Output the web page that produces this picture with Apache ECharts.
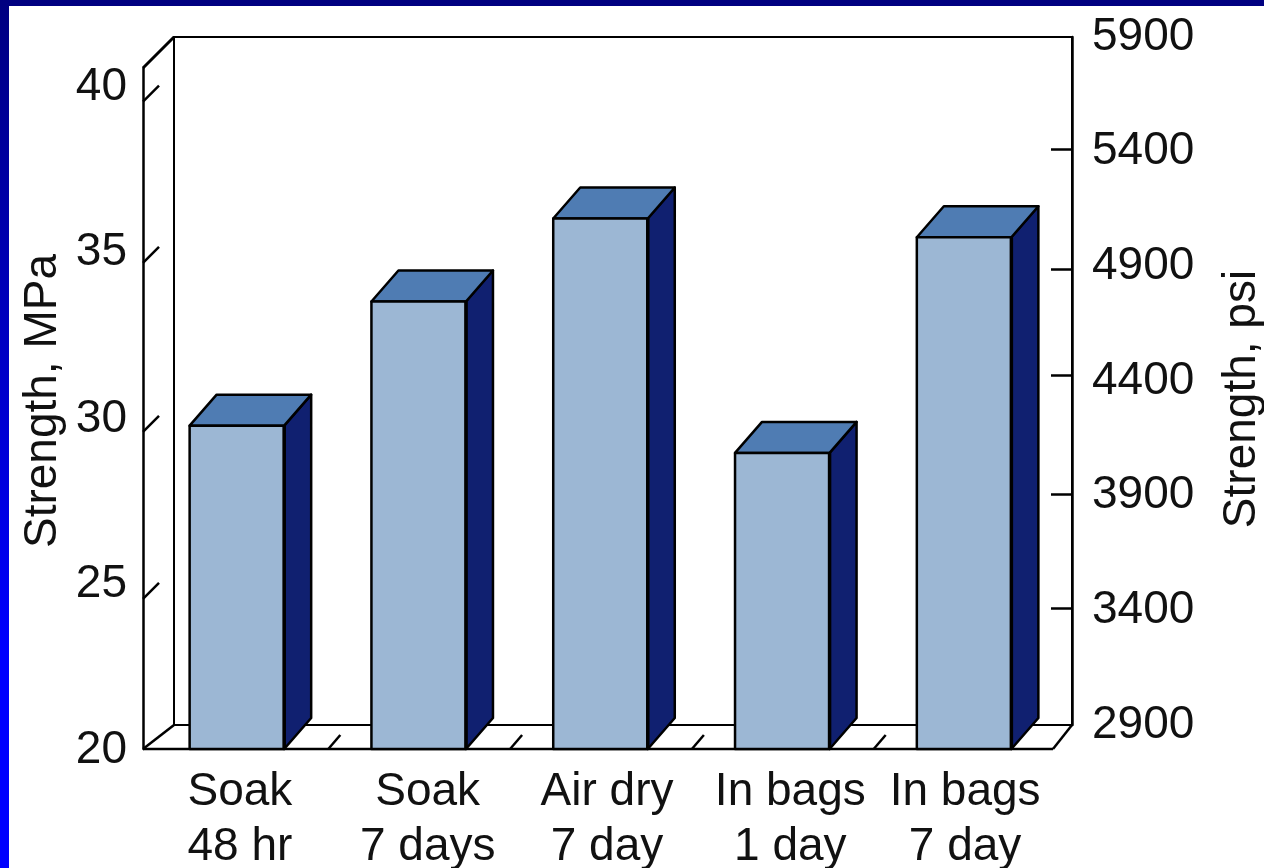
<!DOCTYPE html>
<html>
<head>
<meta charset="utf-8">
<style>html,body{margin:0;padding:0;background:#fff}#c{width:1264px;height:868px}</style>
<script src="https://cdn.jsdelivr.net/npm/echarts@6/dist/echarts.min.js"></script>
</head>
<body>
<div id="c"></div>
<script>
// ---- data ----
const categories = ["Soak\n48 hr", "Soak\n7 days", "Air dry\n7 day", "In bags\n1 day", "In bags\n7 day"];
const strengthMPa = [29.97, 33.8, 36.36, 29.13, 35.78];
const leftLabels = [20, 25, 30, 35, 40];
const leftTickMarks = [24.63, 29.78, 34.99, 39.96];   // where the slanted ticks were actually drawn
const rightLabels = [2900, 3400, 3900, 4400, 4900, 5400, 5900];
const rightTickMarks = [3410, 3906, 4423, 4887, 5409]; // where the right ticks were actually drawn
const leftName = "Strength, MPa";
const rightName = "Strength, psi";

// ---- style ----
const FONT = "Liberation Sans", FS = 46, INK = "#000", TXT = "#111";
const FACE = "#9cb7d4", TOP = "#4f7cb3", SIDE = "#102070";
const BAR_RATIO = 0.52, DX = 27, DY = 31;
const leftPad = {40: [0, 0, 27, 0], 35: [0, 0, 21, 0], 30: [0, 0, 11, 0], 25: [0, 0, 6, 0], 20: [3, 0, 0, 0]};  // label nudges
const catNudge = [6, 18, 13, 16, 2];                       // label nudges (left padding)

const rich = {};
leftLabels.forEach(v => { rich["l" + v] = {fontFamily: FONT, fontSize: FS, color: TXT, padding: leftPad[v]}; });
catNudge.forEach((p, i) => { rich["c" + i] = {fontFamily: FONT, fontSize: FS, lineHeight: 55, color: TXT, padding: [0, 0, 0, p]}; });

function renderBar(params, api) {
  const i = api.value(0), v = api.value(1);
  const top = api.coord([i, v]), base = api.coord([i, 20]);
  const w = api.size([1, 0])[0] * BAR_RATIO;
  const x0 = top[0] - w / 2, x1 = top[0] + w / 2, y0 = top[1], y1 = base[1];
  const edge = {stroke: INK, lineWidth: 2.5, lineJoin: "round"};
  return {type: "group", children: [
    {type: "polygon", shape: {points: [[x1, y0], [x1 + DX, y0 - DY], [x1 + DX, y1 - DY], [x1, y1]]}, style: Object.assign({fill: SIDE}, edge)},
    {type: "polygon", shape: {points: [[x0, y0], [x0 + DX, y0 - DY], [x1 + DX, y0 - DY], [x1, y0]]}, style: Object.assign({fill: TOP}, edge)},
    {type: "rect", shape: {x: x0, y: y0, width: w, height: y1 - y0}, style: Object.assign({fill: FACE}, edge)},
    {type: "line", shape: {x1: x1, y1: y0, x2: x1, y2: y1}, style: {stroke: INK, lineWidth: 3.5}}
  ]};
}

function renderFrame(params, api) {
  const g = params.coordSys, line = (a, b, c, d, lw) => ({type: "line", shape: {x1: a, y1: b, x2: c, y2: d}, style: {stroke: INK, lineWidth: lw || 2.5}});
  const L = g.x - 3, B = g.y + g.height, T = g.y, band = g.width / categories.length, R = g.x + g.width - 2;
  const kids = [
    line(L, T, L + 31, T - 31, 3),
    line(L, B, L + 31, B - 24),
    line(L, B, R, B),
    line(R, B, R + 19, B - 24)
  ];
  leftTickMarks.forEach(t => { const y = api.coord([0, t])[1]; kids.push(line(L, y, L + 16, y - 16)); });
  for (let k = 1; k < categories.length; k++) {
    const x = g.x + k * band + 0.5;
    kids.push(line(x, B, x + 12, B - 14));
  }
  return {type: "group", children: kids};
}

const chart = echarts.init(document.getElementById("c"), null, {renderer: "canvas"});
chart.setOption({
  animation: false,
  backgroundColor: {type: "linear", x: 0, y: 0, x2: 0, y2: 1, colorStops: [{offset: 0, color: "#000080"}, {offset: 0.75, color: "#0000ff"}, {offset: 1, color: "#0000ff"}]},
  graphic: [{type: "rect", z: -10, silent: true, shape: {x: 9, y: 6, width: 1255, height: 862}, style: {fill: "#fff"}}],
  grid: [
    {left: 146, top: 68, width: 909, height: 681, show: false, outerBoundsMode: "none"},
    {left: 174, top: 37, width: 898, height: 688, show: true, backgroundColor: "transparent", borderColor: INK, borderWidth: 2, outerBoundsMode: "none"}
  ],
  xAxis: [
    {type: "category", gridIndex: 0, data: categories, axisLine: {show: false}, axisTick: {show: false},
     axisLabel: {interval: 0, margin: 16, color: TXT, fontFamily: FONT, fontSize: FS, lineHeight: 55, rich: rich,
       formatter: (val, idx) => val.split("\n").map(s => "{c" + idx + "|" + s + "}").join("\n")}},
    {type: "category", gridIndex: 1, data: categories, show: false}
  ],
  yAxis: [
    {type: "value", gridIndex: 0, position: "left", offset: 3, min: 20, max: 41,
     name: leftName, nameLocation: "middle", nameGap: 77, nameRotate: 90, nameMoveOverlap: false,
     nameTextStyle: {fontFamily: FONT, fontSize: FS, color: TXT, padding: [0, 0, 0, 15]},
     axisLine: {show: true, lineStyle: {color: INK, width: 2.5}}, axisTick: {show: false}, splitLine: {show: false},
     axisLabel: {customValues: leftLabels, margin: 16, color: TXT, fontFamily: FONT, fontSize: FS, rich: rich, formatter: v => "{l" + v + "|" + v + "}"}},
    {type: "value", gridIndex: 1, position: "right", min: 2900, max: 5900,
     name: rightName, nameLocation: "middle", nameGap: 147, nameRotate: 90, nameMoveOverlap: false,
     nameTextStyle: {fontFamily: FONT, fontSize: FS, color: TXT, padding: [0, 36, 0, 0]},
     axisLine: {show: true, lineStyle: {color: INK, width: 2.5}},
     axisTick: {show: true, inside: true, length: 21, customValues: rightTickMarks, lineStyle: {color: INK, width: 2.5}},
     splitLine: {show: false},
     axisLabel: {customValues: rightLabels, margin: 20, color: TXT, fontFamily: FONT, fontSize: FS, padding: [0, 0, 4, 0], formatter: v => String(v)}}
  ],
  series: [
    {type: "custom", name: "frame", xAxisIndex: 0, yAxisIndex: 0, z: 1, silent: true, clip: false, data: [[0, 20]], encode: {x: 0, y: 1}, renderItem: renderFrame},
    {type: "custom", name: "Strength", xAxisIndex: 0, yAxisIndex: 0, z: 3, silent: true, clip: false,
     data: strengthMPa.map((v, i) => [i, v]), encode: {x: 0, y: 1}, renderItem: renderBar}
  ]
});
</script>
</body>
</html>
